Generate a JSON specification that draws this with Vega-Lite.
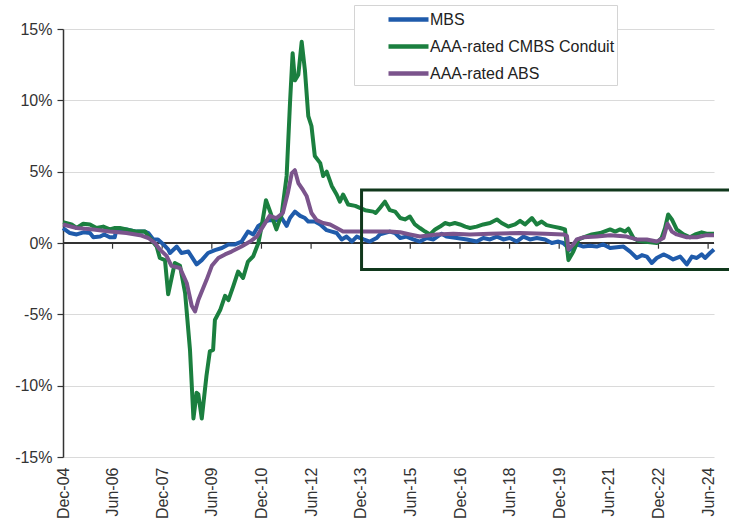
{
  "$schema": "https://vega.github.io/schema/vega-lite/v6.json",
  "width": 651,
  "height": 428,
  "autosize": "none",
  "padding": {"left": 63, "top": 29, "right": 15, "bottom": 68},
  "background": "white",
  "config": {
    "view": {"stroke": null},
    "font": "Liberation Sans"
  },
  "datasets": {
    "series": [
      {"d":"2004-12-01","s":"MBS","v":1.05},{"d":"2005-02-15","s":"MBS","v":0.7},{"d":"2005-05-01","s":"MBS","v":0.6},{"d":"2005-07-15","s":"MBS","v":0.75},{"d":"2005-09-25","s":"MBS","v":0.7},{"d":"2005-11-01","s":"MBS","v":0.4},{"d":"2006-01-15","s":"MBS","v":0.45},{"d":"2006-03-01","s":"MBS","v":0.6},{"d":"2006-05-01","s":"MBS","v":0.4},{"d":"2006-06-25","s":"MBS","v":0.4},{"d":"2006-07-15","s":"MBS","v":1.0},{"d":"2006-11-01","s":"MBS","v":0.95},{"d":"2007-02-20","s":"MBS","v":0.8},{"d":"2007-05-25","s":"MBS","v":0.8},{"d":"2007-07-01","s":"MBS","v":0.7},{"d":"2007-08-25","s":"MBS","v":0.25},{"d":"2007-10-15","s":"MBS","v":0.25},{"d":"2007-12-15","s":"MBS","v":-0.1},{"d":"2008-02-05","s":"MBS","v":-0.45},{"d":"2008-02-25","s":"MBS","v":-0.7},{"d":"2008-05-10","s":"MBS","v":-0.25},{"d":"2008-07-01","s":"MBS","v":-0.7},{"d":"2008-09-15","s":"MBS","v":-0.6},{"d":"2008-12-15","s":"MBS","v":-1.5},{"d":"2009-02-10","s":"MBS","v":-1.2},{"d":"2009-04-20","s":"MBS","v":-0.7},{"d":"2009-07-05","s":"MBS","v":-0.5},{"d":"2009-09-20","s":"MBS","v":-0.35},{"d":"2009-12-01","s":"MBS","v":-0.1},{"d":"2010-02-12","s":"MBS","v":-0.1},{"d":"2010-04-25","s":"MBS","v":0.1},{"d":"2010-07-05","s":"MBS","v":0.8},{"d":"2010-09-01","s":"MBS","v":0.6},{"d":"2010-10-28","s":"MBS","v":1.2},{"d":"2011-01-10","s":"MBS","v":1.5},{"d":"2011-03-01","s":"MBS","v":1.6},{"d":"2011-05-15","s":"MBS","v":1.6},{"d":"2011-07-12","s":"MBS","v":1.75},{"d":"2011-09-05","s":"MBS","v":1.2},{"d":"2011-10-12","s":"MBS","v":1.75},{"d":"2011-12-05","s":"MBS","v":2.2},{"d":"2012-02-01","s":"MBS","v":1.9},{"d":"2012-03-25","s":"MBS","v":1.75},{"d":"2012-05-01","s":"MBS","v":1.5},{"d":"2012-07-12","s":"MBS","v":1.5},{"d":"2012-09-10","s":"MBS","v":1.3},{"d":"2012-11-20","s":"MBS","v":0.9},{"d":"2013-01-15","s":"MBS","v":0.8},{"d":"2013-03-10","s":"MBS","v":0.7},{"d":"2013-05-05","s":"MBS","v":0.25},{"d":"2013-06-28","s":"MBS","v":0.45},{"d":"2013-08-25","s":"MBS","v":0.1},{"d":"2013-10-18","s":"MBS","v":0.45},{"d":"2014-01-01","s":"MBS","v":0.25},{"d":"2014-03-12","s":"MBS","v":0.1},{"d":"2014-05-25","s":"MBS","v":0.35},{"d":"2014-07-01","s":"MBS","v":0.6},{"d":"2014-10-18","s":"MBS","v":0.8},{"d":"2014-12-15","s":"MBS","v":0.7},{"d":"2015-02-10","s":"MBS","v":0.35},{"d":"2015-04-20","s":"MBS","v":0.45},{"d":"2015-07-03","s":"MBS","v":0.25},{"d":"2015-09-15","s":"MBS","v":0.1},{"d":"2015-12-01","s":"MBS","v":0.35},{"d":"2016-02-12","s":"MBS","v":0.25},{"d":"2016-05-12","s":"MBS","v":0.65},{"d":"2016-07-05","s":"MBS","v":0.45},{"d":"2016-10-28","s":"MBS","v":0.35},{"d":"2017-02-15","s":"MBS","v":0.25},{"d":"2017-06-03","s":"MBS","v":0.1},{"d":"2017-08-15","s":"MBS","v":0.35},{"d":"2017-10-28","s":"MBS","v":0.25},{"d":"2018-01-12","s":"MBS","v":0.45},{"d":"2018-03-25","s":"MBS","v":0.25},{"d":"2018-06-05","s":"MBS","v":0.35},{"d":"2018-08-18","s":"MBS","v":0.1},{"d":"2018-11-01","s":"MBS","v":0.45},{"d":"2019-01-12","s":"MBS","v":0.25},{"d":"2019-03-28","s":"MBS","v":0.35},{"d":"2019-06-28","s":"MBS","v":0.25},{"d":"2019-09-10","s":"MBS","v":0.0},{"d":"2019-11-22","s":"MBS","v":0.1},{"d":"2020-01-15","s":"MBS","v":0.0},{"d":"2020-02-25","s":"MBS","v":-0.25},{"d":"2020-03-20","s":"MBS","v":-0.5},{"d":"2020-06-12","s":"MBS","v":-0.1},{"d":"2020-08-25","s":"MBS","v":-0.25},{"d":"2020-11-05","s":"MBS","v":-0.2},{"d":"2021-01-18","s":"MBS","v":-0.25},{"d":"2021-04-01","s":"MBS","v":-0.1},{"d":"2021-06-15","s":"MBS","v":-0.35},{"d":"2021-08-28","s":"MBS","v":-0.3},{"d":"2021-11-10","s":"MBS","v":-0.25},{"d":"2022-01-22","s":"MBS","v":-0.6},{"d":"2022-04-05","s":"MBS","v":-1.05},{"d":"2022-06-01","s":"MBS","v":-0.85},{"d":"2022-07-25","s":"MBS","v":-0.95},{"d":"2022-09-18","s":"MBS","v":-1.4},{"d":"2022-11-12","s":"MBS","v":-1.05},{"d":"2023-01-25","s":"MBS","v":-0.8},{"d":"2023-03-18","s":"MBS","v":-0.95},{"d":"2023-05-12","s":"MBS","v":-1.15},{"d":"2023-07-28","s":"MBS","v":-0.95},{"d":"2023-10-10","s":"MBS","v":-1.5},{"d":"2023-12-05","s":"MBS","v":-0.95},{"d":"2024-01-28","s":"MBS","v":-1.05},{"d":"2024-03-22","s":"MBS","v":-0.8},{"d":"2024-04-28","s":"MBS","v":-1.05},{"d":"2024-06-22","s":"MBS","v":-0.7},{"d":"2024-08-05","s":"MBS","v":-0.45},

      {"d":"2004-12-01","s":"AAA-rated CMBS Conduit","v":1.45},{"d":"2005-03-05","s":"AAA-rated CMBS Conduit","v":1.3},{"d":"2005-05-01","s":"AAA-rated CMBS Conduit","v":1.05},{"d":"2005-07-12","s":"AAA-rated CMBS Conduit","v":1.35},{"d":"2005-09-25","s":"AAA-rated CMBS Conduit","v":1.3},{"d":"2005-12-05","s":"AAA-rated CMBS Conduit","v":1.05},{"d":"2006-02-18","s":"AAA-rated CMBS Conduit","v":1.15},{"d":"2006-05-01","s":"AAA-rated CMBS Conduit","v":0.95},{"d":"2006-06-28","s":"AAA-rated CMBS Conduit","v":1.05},{"d":"2006-08-20","s":"AAA-rated CMBS Conduit","v":1.05},{"d":"2006-11-03","s":"AAA-rated CMBS Conduit","v":0.95},{"d":"2007-02-20","s":"AAA-rated CMBS Conduit","v":0.8},{"d":"2007-05-25","s":"AAA-rated CMBS Conduit","v":0.8},{"d":"2007-07-18","s":"AAA-rated CMBS Conduit","v":0.35},{"d":"2007-10-01","s":"AAA-rated CMBS Conduit","v":-0.25},{"d":"2007-11-05","s":"AAA-rated CMBS Conduit","v":-1.05},{"d":"2008-01-01","s":"AAA-rated CMBS Conduit","v":-1.2},{"d":"2008-02-05","s":"AAA-rated CMBS Conduit","v":-3.6},{"d":"2008-04-18","s":"AAA-rated CMBS Conduit","v":-1.4},{"d":"2008-06-15","s":"AAA-rated CMBS Conduit","v":-1.6},{"d":"2008-08-10","s":"AAA-rated CMBS Conduit","v":-3.5},{"d":"2008-10-03","s":"AAA-rated CMBS Conduit","v":-7.5},{"d":"2008-11-10","s":"AAA-rated CMBS Conduit","v":-12.3},{"d":"2008-12-15","s":"AAA-rated CMBS Conduit","v":-10.5},{"d":"2009-01-03","s":"AAA-rated CMBS Conduit","v":-10.6},{"d":"2009-02-10","s":"AAA-rated CMBS Conduit","v":-12.3},{"d":"2009-04-03","s":"AAA-rated CMBS Conduit","v":-9.3},{"d":"2009-05-10","s":"AAA-rated CMBS Conduit","v":-7.6},{"d":"2009-06-15","s":"AAA-rated CMBS Conduit","v":-7.5},{"d":"2009-07-05","s":"AAA-rated CMBS Conduit","v":-5.4},{"d":"2009-09-01","s":"AAA-rated CMBS Conduit","v":-4.7},{"d":"2009-10-25","s":"AAA-rated CMBS Conduit","v":-3.7},{"d":"2009-12-01","s":"AAA-rated CMBS Conduit","v":-4.0},{"d":"2010-01-25","s":"AAA-rated CMBS Conduit","v":-3.0},{"d":"2010-03-18","s":"AAA-rated CMBS Conduit","v":-2.0},{"d":"2010-05-12","s":"AAA-rated CMBS Conduit","v":-2.45},{"d":"2010-07-05","s":"AAA-rated CMBS Conduit","v":-1.3},{"d":"2010-09-01","s":"AAA-rated CMBS Conduit","v":-0.93},{"d":"2010-10-28","s":"AAA-rated CMBS Conduit","v":0.0},{"d":"2010-12-03","s":"AAA-rated CMBS Conduit","v":1.17},{"d":"2011-01-20","s":"AAA-rated CMBS Conduit","v":3.0},{"d":"2011-03-01","s":"AAA-rated CMBS Conduit","v":2.3},{"d":"2011-05-15","s":"AAA-rated CMBS Conduit","v":0.95},{"d":"2011-07-12","s":"AAA-rated CMBS Conduit","v":2.0},{"d":"2011-09-05","s":"AAA-rated CMBS Conduit","v":4.7},{"d":"2011-10-12","s":"AAA-rated CMBS Conduit","v":9.8},{"d":"2011-11-10","s":"AAA-rated CMBS Conduit","v":13.3},{"d":"2011-12-05","s":"AAA-rated CMBS Conduit","v":11.4},{"d":"2012-01-12","s":"AAA-rated CMBS Conduit","v":11.8},{"d":"2012-02-18","s":"AAA-rated CMBS Conduit","v":14.1},{"d":"2012-03-25","s":"AAA-rated CMBS Conduit","v":12.1},{"d":"2012-05-01","s":"AAA-rated CMBS Conduit","v":8.9},{"d":"2012-06-05","s":"AAA-rated CMBS Conduit","v":8.2},{"d":"2012-07-12","s":"AAA-rated CMBS Conduit","v":6.1},{"d":"2012-09-10","s":"AAA-rated CMBS Conduit","v":5.6},{"d":"2012-10-12","s":"AAA-rated CMBS Conduit","v":4.7},{"d":"2012-11-20","s":"AAA-rated CMBS Conduit","v":5.0},{"d":"2013-01-15","s":"AAA-rated CMBS Conduit","v":4.0},{"d":"2013-03-10","s":"AAA-rated CMBS Conduit","v":3.4},{"d":"2013-04-15","s":"AAA-rated CMBS Conduit","v":2.9},{"d":"2013-05-20","s":"AAA-rated CMBS Conduit","v":3.4},{"d":"2013-07-15","s":"AAA-rated CMBS Conduit","v":2.7},{"d":"2013-10-01","s":"AAA-rated CMBS Conduit","v":2.6},{"d":"2014-01-18","s":"AAA-rated CMBS Conduit","v":2.3},{"d":"2014-04-18","s":"AAA-rated CMBS Conduit","v":2.2},{"d":"2014-05-15","s":"AAA-rated CMBS Conduit","v":2.1},{"d":"2014-07-01","s":"AAA-rated CMBS Conduit","v":2.45},{"d":"2014-08-25","s":"AAA-rated CMBS Conduit","v":2.9},{"d":"2014-10-18","s":"AAA-rated CMBS Conduit","v":2.3},{"d":"2014-12-15","s":"AAA-rated CMBS Conduit","v":2.2},{"d":"2015-02-10","s":"AAA-rated CMBS Conduit","v":1.75},{"d":"2015-04-03","s":"AAA-rated CMBS Conduit","v":1.65},{"d":"2015-05-28","s":"AAA-rated CMBS Conduit","v":1.85},{"d":"2015-07-22","s":"AAA-rated CMBS Conduit","v":1.3},{"d":"2015-09-15","s":"AAA-rated CMBS Conduit","v":1.05},{"d":"2015-11-12","s":"AAA-rated CMBS Conduit","v":0.8},{"d":"2016-01-05","s":"AAA-rated CMBS Conduit","v":0.6},{"d":"2016-03-01","s":"AAA-rated CMBS Conduit","v":0.95},{"d":"2016-04-25","s":"AAA-rated CMBS Conduit","v":1.15},{"d":"2016-06-18","s":"AAA-rated CMBS Conduit","v":1.4},{"d":"2016-08-12","s":"AAA-rated CMBS Conduit","v":1.3},{"d":"2016-10-05","s":"AAA-rated CMBS Conduit","v":1.4},{"d":"2016-12-01","s":"AAA-rated CMBS Conduit","v":1.3},{"d":"2017-01-28","s":"AAA-rated CMBS Conduit","v":1.15},{"d":"2017-03-22","s":"AAA-rated CMBS Conduit","v":1.05},{"d":"2017-06-03","s":"AAA-rated CMBS Conduit","v":1.15},{"d":"2017-08-15","s":"AAA-rated CMBS Conduit","v":1.3},{"d":"2017-10-28","s":"AAA-rated CMBS Conduit","v":1.4},{"d":"2018-01-12","s":"AAA-rated CMBS Conduit","v":1.65},{"d":"2018-03-05","s":"AAA-rated CMBS Conduit","v":1.4},{"d":"2018-05-18","s":"AAA-rated CMBS Conduit","v":1.15},{"d":"2018-08-01","s":"AAA-rated CMBS Conduit","v":1.3},{"d":"2018-09-25","s":"AAA-rated CMBS Conduit","v":1.55},{"d":"2018-11-18","s":"AAA-rated CMBS Conduit","v":1.3},{"d":"2019-02-03","s":"AAA-rated CMBS Conduit","v":1.75},{"d":"2019-03-28","s":"AAA-rated CMBS Conduit","v":1.3},{"d":"2019-05-22","s":"AAA-rated CMBS Conduit","v":1.5},{"d":"2019-07-15","s":"AAA-rated CMBS Conduit","v":1.25},{"d":"2019-09-28","s":"AAA-rated CMBS Conduit","v":1.15},{"d":"2019-12-10","s":"AAA-rated CMBS Conduit","v":1.05},{"d":"2020-02-03","s":"AAA-rated CMBS Conduit","v":0.95},{"d":"2020-03-12","s":"AAA-rated CMBS Conduit","v":-1.2},{"d":"2020-05-05","s":"AAA-rated CMBS Conduit","v":-0.6},{"d":"2020-07-01","s":"AAA-rated CMBS Conduit","v":0.25},{"d":"2020-08-25","s":"AAA-rated CMBS Conduit","v":0.4},{"d":"2020-11-25","s":"AAA-rated CMBS Conduit","v":0.6},{"d":"2021-02-25","s":"AAA-rated CMBS Conduit","v":0.7},{"d":"2021-06-15","s":"AAA-rated CMBS Conduit","v":0.95},{"d":"2021-08-10","s":"AAA-rated CMBS Conduit","v":0.8},{"d":"2021-10-03","s":"AAA-rated CMBS Conduit","v":0.95},{"d":"2021-11-28","s":"AAA-rated CMBS Conduit","v":0.8},{"d":"2022-01-03","s":"AAA-rated CMBS Conduit","v":1.0},{"d":"2022-02-28","s":"AAA-rated CMBS Conduit","v":0.35},{"d":"2022-04-22","s":"AAA-rated CMBS Conduit","v":0.15},{"d":"2022-06-18","s":"AAA-rated CMBS Conduit","v":0.1},{"d":"2022-09-01","s":"AAA-rated CMBS Conduit","v":0.05},{"d":"2022-11-12","s":"AAA-rated CMBS Conduit","v":0.0},{"d":"2023-01-05","s":"AAA-rated CMBS Conduit","v":0.35},{"d":"2023-02-12","s":"AAA-rated CMBS Conduit","v":1.05},{"d":"2023-03-18","s":"AAA-rated CMBS Conduit","v":2.0},{"d":"2023-04-28","s":"AAA-rated CMBS Conduit","v":1.65},{"d":"2023-06-20","s":"AAA-rated CMBS Conduit","v":0.95},{"d":"2023-09-03","s":"AAA-rated CMBS Conduit","v":0.6},{"d":"2023-11-15","s":"AAA-rated CMBS Conduit","v":0.4},{"d":"2024-01-10","s":"AAA-rated CMBS Conduit","v":0.6},{"d":"2024-03-22","s":"AAA-rated CMBS Conduit","v":0.75},{"d":"2024-05-15","s":"AAA-rated CMBS Conduit","v":0.65},{"d":"2024-08-05","s":"AAA-rated CMBS Conduit","v":0.65},

      {"d":"2004-12-01","s":"AAA-rated ABS","v":1.3},{"d":"2005-05-01","s":"AAA-rated ABS","v":1.05},{"d":"2005-11-01","s":"AAA-rated ABS","v":0.95},{"d":"2006-05-01","s":"AAA-rated ABS","v":0.8},{"d":"2006-11-01","s":"AAA-rated ABS","v":0.7},{"d":"2007-04-01","s":"AAA-rated ABS","v":0.55},{"d":"2007-07-01","s":"AAA-rated ABS","v":0.35},{"d":"2007-09-12","s":"AAA-rated ABS","v":0.0},{"d":"2007-11-05","s":"AAA-rated ABS","v":-0.45},{"d":"2008-01-18","s":"AAA-rated ABS","v":-0.9},{"d":"2008-03-12","s":"AAA-rated ABS","v":-1.6},{"d":"2008-06-15","s":"AAA-rated ABS","v":-1.75},{"d":"2008-08-28","s":"AAA-rated ABS","v":-2.8},{"d":"2008-10-22","s":"AAA-rated ABS","v":-4.4},{"d":"2008-11-28","s":"AAA-rated ABS","v":-4.8},{"d":"2009-01-03","s":"AAA-rated ABS","v":-4.0},{"d":"2009-02-10","s":"AAA-rated ABS","v":-3.4},{"d":"2009-04-03","s":"AAA-rated ABS","v":-2.6},{"d":"2009-06-01","s":"AAA-rated ABS","v":-1.6},{"d":"2009-08-12","s":"AAA-rated ABS","v":-1.05},{"d":"2009-10-25","s":"AAA-rated ABS","v":-0.8},{"d":"2010-01-05","s":"AAA-rated ABS","v":-0.6},{"d":"2010-04-25","s":"AAA-rated ABS","v":-0.25},{"d":"2010-07-28","s":"AAA-rated ABS","v":0.1},{"d":"2010-10-10","s":"AAA-rated ABS","v":0.45},{"d":"2010-12-22","s":"AAA-rated ABS","v":1.2},{"d":"2011-03-01","s":"AAA-rated ABS","v":1.9},{"d":"2011-05-15","s":"AAA-rated ABS","v":1.75},{"d":"2011-07-25","s":"AAA-rated ABS","v":2.1},{"d":"2011-09-18","s":"AAA-rated ABS","v":3.5},{"d":"2011-11-01","s":"AAA-rated ABS","v":4.9},{"d":"2011-12-05","s":"AAA-rated ABS","v":5.1},{"d":"2012-01-12","s":"AAA-rated ABS","v":4.2},{"d":"2012-03-05","s":"AAA-rated ABS","v":3.7},{"d":"2012-04-12","s":"AAA-rated ABS","v":3.3},{"d":"2012-06-05","s":"AAA-rated ABS","v":2.1},{"d":"2012-08-01","s":"AAA-rated ABS","v":1.6},{"d":"2012-10-12","s":"AAA-rated ABS","v":1.4},{"d":"2012-12-28","s":"AAA-rated ABS","v":1.3},{"d":"2013-03-10","s":"AAA-rated ABS","v":1.05},{"d":"2013-05-20","s":"AAA-rated ABS","v":0.8},{"d":"2013-10-18","s":"AAA-rated ABS","v":0.8},{"d":"2014-07-01","s":"AAA-rated ABS","v":0.8},{"d":"2014-10-18","s":"AAA-rated ABS","v":0.8},{"d":"2015-02-10","s":"AAA-rated ABS","v":0.75},{"d":"2015-05-28","s":"AAA-rated ABS","v":0.6},{"d":"2015-09-15","s":"AAA-rated ABS","v":0.45},{"d":"2016-03-18","s":"AAA-rated ABS","v":0.6},{"d":"2016-09-18","s":"AAA-rated ABS","v":0.65},{"d":"2017-03-22","s":"AAA-rated ABS","v":0.6},{"d":"2017-10-28","s":"AAA-rated ABS","v":0.65},{"d":"2018-09-25","s":"AAA-rated ABS","v":0.7},{"d":"2019-06-28","s":"AAA-rated ABS","v":0.65},{"d":"2020-01-15","s":"AAA-rated ABS","v":0.6},{"d":"2020-02-25","s":"AAA-rated ABS","v":0.5},{"d":"2020-03-12","s":"AAA-rated ABS","v":-0.45},{"d":"2020-05-05","s":"AAA-rated ABS","v":-0.1},{"d":"2020-06-12","s":"AAA-rated ABS","v":0.25},{"d":"2020-08-25","s":"AAA-rated ABS","v":0.4},{"d":"2021-01-18","s":"AAA-rated ABS","v":0.45},{"d":"2021-06-15","s":"AAA-rated ABS","v":0.55},{"d":"2021-12-15","s":"AAA-rated ABS","v":0.45},{"d":"2022-04-05","s":"AAA-rated ABS","v":0.25},{"d":"2022-07-25","s":"AAA-rated ABS","v":0.25},{"d":"2022-11-12","s":"AAA-rated ABS","v":0.1},{"d":"2023-01-25","s":"AAA-rated ABS","v":0.35},{"d":"2023-03-10","s":"AAA-rated ABS","v":1.35},{"d":"2023-04-28","s":"AAA-rated ABS","v":0.8},{"d":"2023-06-20","s":"AAA-rated ABS","v":0.6},{"d":"2023-10-10","s":"AAA-rated ABS","v":0.4},{"d":"2024-01-28","s":"AAA-rated ABS","v":0.4},{"d":"2024-05-15","s":"AAA-rated ABS","v":0.55},{"d":"2024-08-05","s":"AAA-rated ABS","v":0.55}
    ],
    "ticks": [
      {"d":"2006-06-01"},{"d":"2007-12-01"},{"d":"2009-06-01"},{"d":"2010-12-01"},{"d":"2012-06-01"},{"d":"2013-12-01"},{"d":"2015-06-01"},{"d":"2016-12-01"},{"d":"2018-06-01"},{"d":"2019-12-01"},{"d":"2021-06-01"},{"d":"2022-12-01"},{"d":"2024-06-01"}
    ],
    "box": [
      {"d":"2013-12-10","d2":"2025-03-01","v":3.72,"v2":-1.85}
    ]
  },
  "layer": [
    {
      "data": {"name": "ticks"},
      "mark": {"type": "rule", "color": "#333", "strokeWidth": 1.5},
      "encoding": {
        "y": {"datum": 0, "type": "quantitative", "title": null}
      }
    },
    {
      "data": {"name": "ticks"},
      "mark": {"type": "rule", "color": "#333", "strokeWidth": 1.2},
      "encoding": {
        "x": {
          "field": "d", "type": "temporal", "title": null,
          "scale": {"type": "utc", "domain": [{"year": 2004, "month": 12, "date": 1, "utc": true}, {"year": 2024, "month": 8, "date": 5, "utc": true}], "nice": false},
          "axis": {
            "title": null, "domain": false, "ticks": false, "tickSize": 0, "grid": false,
            "labelAngle": 270, "labelFontSize": 16, "labelColor": "#333", "labelPadding": 10,
            "labelExpr": "utcFormat(datum.value, '%b-%y')", "labelOverlap": false, "labelBound": false, "labelFlush": false,
            "values": [
              {"year": 2004, "month": 12, "date": 1, "utc": true},
              {"year": 2006, "month": 6, "date": 1, "utc": true},
              {"year": 2007, "month": 12, "date": 1, "utc": true},
              {"year": 2009, "month": 6, "date": 1, "utc": true},
              {"year": 2010, "month": 12, "date": 1, "utc": true},
              {"year": 2012, "month": 6, "date": 1, "utc": true},
              {"year": 2013, "month": 12, "date": 1, "utc": true},
              {"year": 2015, "month": 6, "date": 1, "utc": true},
              {"year": 2016, "month": 12, "date": 1, "utc": true},
              {"year": 2018, "month": 6, "date": 1, "utc": true},
              {"year": 2019, "month": 12, "date": 1, "utc": true},
              {"year": 2021, "month": 6, "date": 1, "utc": true},
              {"year": 2022, "month": 12, "date": 1, "utc": true},
              {"year": 2024, "month": 6, "date": 1, "utc": true}
            ]
          }
        },
        "y": {"datum": 0, "type": "quantitative", "title": null},
        "y2": {"datum": -0.4}
      }
    },
    {
      "data": {"name": "series"},
      "mark": {"type": "line", "strokeWidth": 4, "strokeJoin": "round"},
      "encoding": {
        "x": {
          "field": "d", "type": "temporal", "title": null,
          "axis": {
            "title": null, "domain": false, "ticks": false, "tickSize": 0, "grid": false,
            "labelAngle": 270, "labelFontSize": 16, "labelColor": "#333", "labelPadding": 10,
            "labelExpr": "utcFormat(datum.value, '%b-%y')", "labelOverlap": false, "labelBound": false, "labelFlush": false,
            "values": [
              {"year": 2004, "month": 12, "date": 1, "utc": true},
              {"year": 2006, "month": 6, "date": 1, "utc": true},
              {"year": 2007, "month": 12, "date": 1, "utc": true},
              {"year": 2009, "month": 6, "date": 1, "utc": true},
              {"year": 2010, "month": 12, "date": 1, "utc": true},
              {"year": 2012, "month": 6, "date": 1, "utc": true},
              {"year": 2013, "month": 12, "date": 1, "utc": true},
              {"year": 2015, "month": 6, "date": 1, "utc": true},
              {"year": 2016, "month": 12, "date": 1, "utc": true},
              {"year": 2018, "month": 6, "date": 1, "utc": true},
              {"year": 2019, "month": 12, "date": 1, "utc": true},
              {"year": 2021, "month": 6, "date": 1, "utc": true},
              {"year": 2022, "month": 12, "date": 1, "utc": true},
              {"year": 2024, "month": 6, "date": 1, "utc": true}
            ]
          }
        },
        "y": {
          "field": "v", "type": "quantitative", "title": null,
          "scale": {"domain": [-15, 15], "nice": false, "zero": false},
          "axis": {
            "title": null, "values": [-15, -10, -5, 0, 5, 10, 15],
            "labelExpr": "datum.value + '%'", "labelFontSize": 16, "labelColor": "#333", "labelPadding": 5,
            "domain": true, "domainColor": "#333", "domainWidth": 1.5,
            "ticks": true, "tickColor": "#333", "tickSize": 6, "tickWidth": 1.2,
            "grid": true, "gridColor": "#dadada", "gridWidth": 1.2
          }
        },
        "color": {
          "field": "s", "type": "nominal",
          "scale": {"domain": ["MBS", "AAA-rated CMBS Conduit", "AAA-rated ABS"], "range": ["#1f5bab", "#1b7f3f", "#7b548c"]},
          "legend": {
            "title": null, "orient": "none", "legendX": 291, "legendY": -24,
            "fillColor": "white", "strokeColor": "#d4d4d4", "padding": 2,
            "symbolType": "M-2,0H2", "symbolSize": 400, "symbolStrokeWidth": 4.5, "symbolOffset": 40,
            "labelFont": "Liberation Sans", "labelFontSize": 16, "labelColor": "#222", "labelOffset": 9,
            "labelLimit": 400, "rowPadding": 5
          }
        }
      }
    },
    {
      "data": {"name": "box"},
      "mark": {"type": "rect", "fill": null, "stroke": "#10381c", "strokeWidth": 3},
      "encoding": {
        "x": {"field": "d", "type": "temporal", "title": null},
        "x2": {"field": "d2"},
        "y": {"field": "v", "type": "quantitative", "title": null},
        "y2": {"field": "v2"}
      }
    }
  ]
}
